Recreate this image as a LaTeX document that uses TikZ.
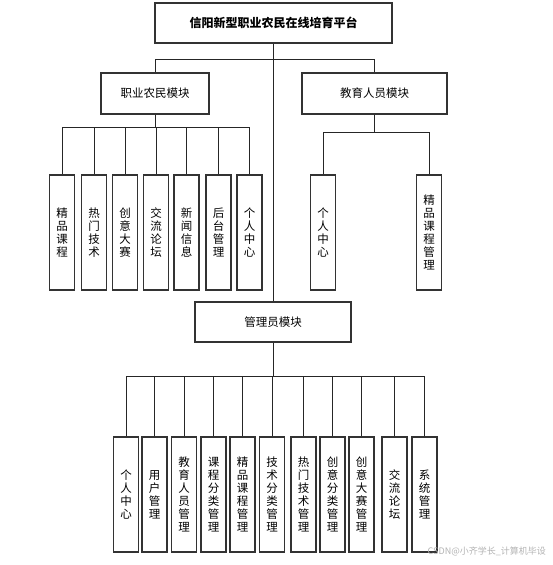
\documentclass[tikz,border=0pt]{standalone}
\usepackage{fontspec}
\newfontfamily\cjk{Noto Sans CJK SC}
\begin{document}
\begin{tikzpicture}[x=1pt,y=-1pt,
  box/.style={draw=black!80,line width=1.1pt,fill=white,inner sep=0pt,align=center,
    font=\cjk\fontsize{11.5}{13}\selectfont},
  vbox/.style={box,minimum width=25pt,minimum height=115pt},
  link/.style={draw=black!85,line width=0.8pt}]
\useasboundingbox (0,0) rectangle (552,565);
% top
\node[box,minimum width=237pt,minimum height=40pt,font=\cjk\bfseries\fontsize{12}{14}\selectfont] (top) at (273.5,23) {信阳新型职业农民在线培育平台};
\node[box,minimum width=108pt,minimum height=41pt] (farm) at (155,93.5) {职业农民模块};
\node[box,minimum width=145pt,minimum height=41pt] (edu) at (374.5,93.5) {教育人员模块};
\node[box,minimum width=156pt,minimum height=40pt] (mgr) at (273,322) {管理员模块};
% farm children
\node[vbox] (f1) at (62,232.5) {精\\品\\课\\程};
\node[vbox] (f2) at (94,232.5) {热\\门\\技\\术};
\node[vbox] (f3) at (125,232.5) {创\\意\\大\\赛};
\node[vbox] (f4) at (156,232.5) {交\\流\\论\\坛};
\node[vbox] (f5) at (186.5,232.5) {新\\闻\\信\\息};
\node[vbox] (f6) at (218.5,232.5) {后\\台\\管\\理};
\node[vbox] (f7) at (249.5,232.5) {个\\人\\中\\心};
% edu children
\node[vbox] (e1) at (323,232.5) {个\\人\\中\\心};
\node[vbox] (e2) at (429,232.5) {精\\品\\课\\程\\管\\理};
% manager children
\node[vbox] (m1) at (126,494.5) {个\\人\\中\\心};
\node[vbox] (m2) at (154.5,494.5) {用\\户\\管\\理};
\node[vbox] (m3) at (184,494.5) {教\\育\\人\\员\\管\\理};
\node[vbox] (m4) at (213.5,494.5) {课\\程\\分\\类\\管\\理};
\node[vbox] (m5) at (242.5,494.5) {精\\品\\课\\程\\管\\理};
\node[vbox] (m6) at (272,494.5) {技\\术\\分\\类\\管\\理};
\node[vbox] (m7) at (303.5,494.5) {热\\门\\技\\术\\管\\理};
\node[vbox] (m8) at (332.5,494.5) {创\\意\\分\\类\\管\\理};
\node[vbox] (m9) at (361.5,494.5) {创\\意\\大\\赛\\管\\理};
\node[vbox] (m10) at (394.5,494.5) {交\\流\\论\\坛};
\node[vbox] (m11) at (424.5,494.5) {系\\统\\管\\理};
% connectors
\draw[link] (top.south) -- (top.south |- mgr.north);
\draw[link] (farm.north) -- ++(0,-13) -| (edu.north);
\draw[link] (farm.south) -- ++(0,13) coordinate (fb);
\foreach \i in {1,...,7} \draw[link] (f\i.north) |- (fb);
\draw[link] (edu.south) -- ++(0,18) coordinate (eb);
\foreach \i in {1,2} \draw[link] (e\i.north) |- (eb);
\draw[link] (mgr.south) -- ++(0,34) coordinate (mb);
\foreach \i in {1,...,11} \draw[link] (m\i.north) |- (mb);
% watermark
\node[anchor=east,text=black!30,font=\cjk\fontsize{9}{10}\selectfont,inner sep=0pt] (wm) at (546,551) {CSDN@小齐学长\_计算机毕设};
\end{tikzpicture}
\end{document}
